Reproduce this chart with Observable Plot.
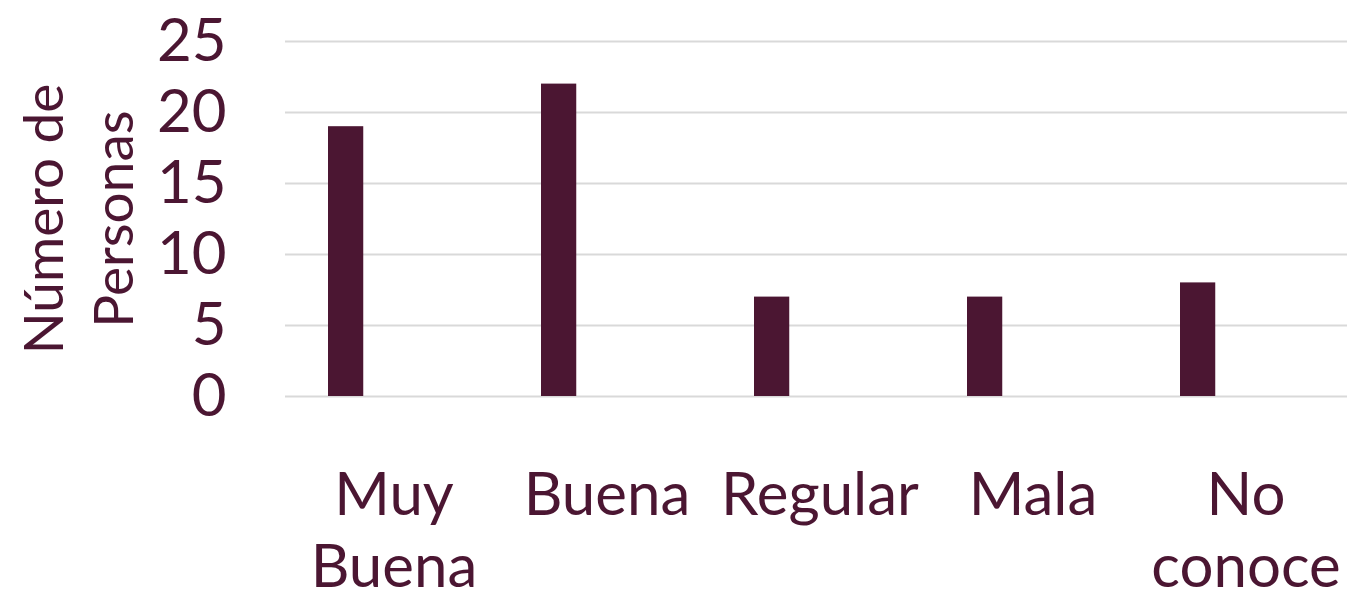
<!DOCTYPE html>
<html>
<head>
<meta charset="utf-8">
<script src="https://cdn.jsdelivr.net/npm/d3@7"></script>
<script src="https://cdn.jsdelivr.net/npm/@observablehq/plot@0.6"></script>
<style>
  html, body { margin: 0; padding: 0; background: #ffffff; }
</style>
</head>
<body>
<div id="chart"></div>
<script>
const categories = ["Muy Buena", "Buena", "Regular", "Mala", "No conoce"];
const tickLabels = ["Muy\nBuena", "Buena", "Regular", "Mala", "No\nconoce"];
const values = [19, 22, 7, 7, 8];
const yTicks = [0, 5, 10, 15, 20, 25];
const yTitle = "Número de\nPersonas";

const color = "#4B1632";
const data = categories.map((c, i) => ({cat: c, value: values[i]}));
const labelOf = new Map(categories.map((c, i) => [c, tickLabels[i]]));

const chart = Plot.plot({
  width: 1347,
  height: 596,
  marginTop: 41,
  marginBottom: 200,
  marginLeft: 285,
  marginRight: 0,
  style: {fontFamily: "Lato, 'Open Sans', sans-serif", color: color, background: "#ffffff"},
  x: {domain: categories, range: [285, 1354], padding: 0},
  y: {domain: [0, 25], range: [396, 41]},
  marks: [
    Plot.gridY(yTicks, {stroke: "#d9d9d9", strokeOpacity: 1, strokeWidth: 2}),
    Plot.barY(data, {x: "cat", y: "value", fill: color, insetLeft: 41, insetRight: 136.75}),
    Plot.axisY(yTicks, {tickSize: 0, tickPadding: 59, fontSize: 60, label: null, fill: color}),
    Plot.axisX({tickSize: 0, tickPadding: 67, fontSize: 60, lineHeight: 1.2, label: null, fill: color,
      tickFormat: d => labelOf.get(d)}),
    Plot.text([yTitle], {frameAnchor: "left", rotate: -90, dx: -210, fontSize: 55, fill: color,
      lineHeight: 1.27, lineAnchor: "middle", textAnchor: "middle"})
  ]
});
document.getElementById("chart").appendChild(chart);
</script>
</body>
</html>
